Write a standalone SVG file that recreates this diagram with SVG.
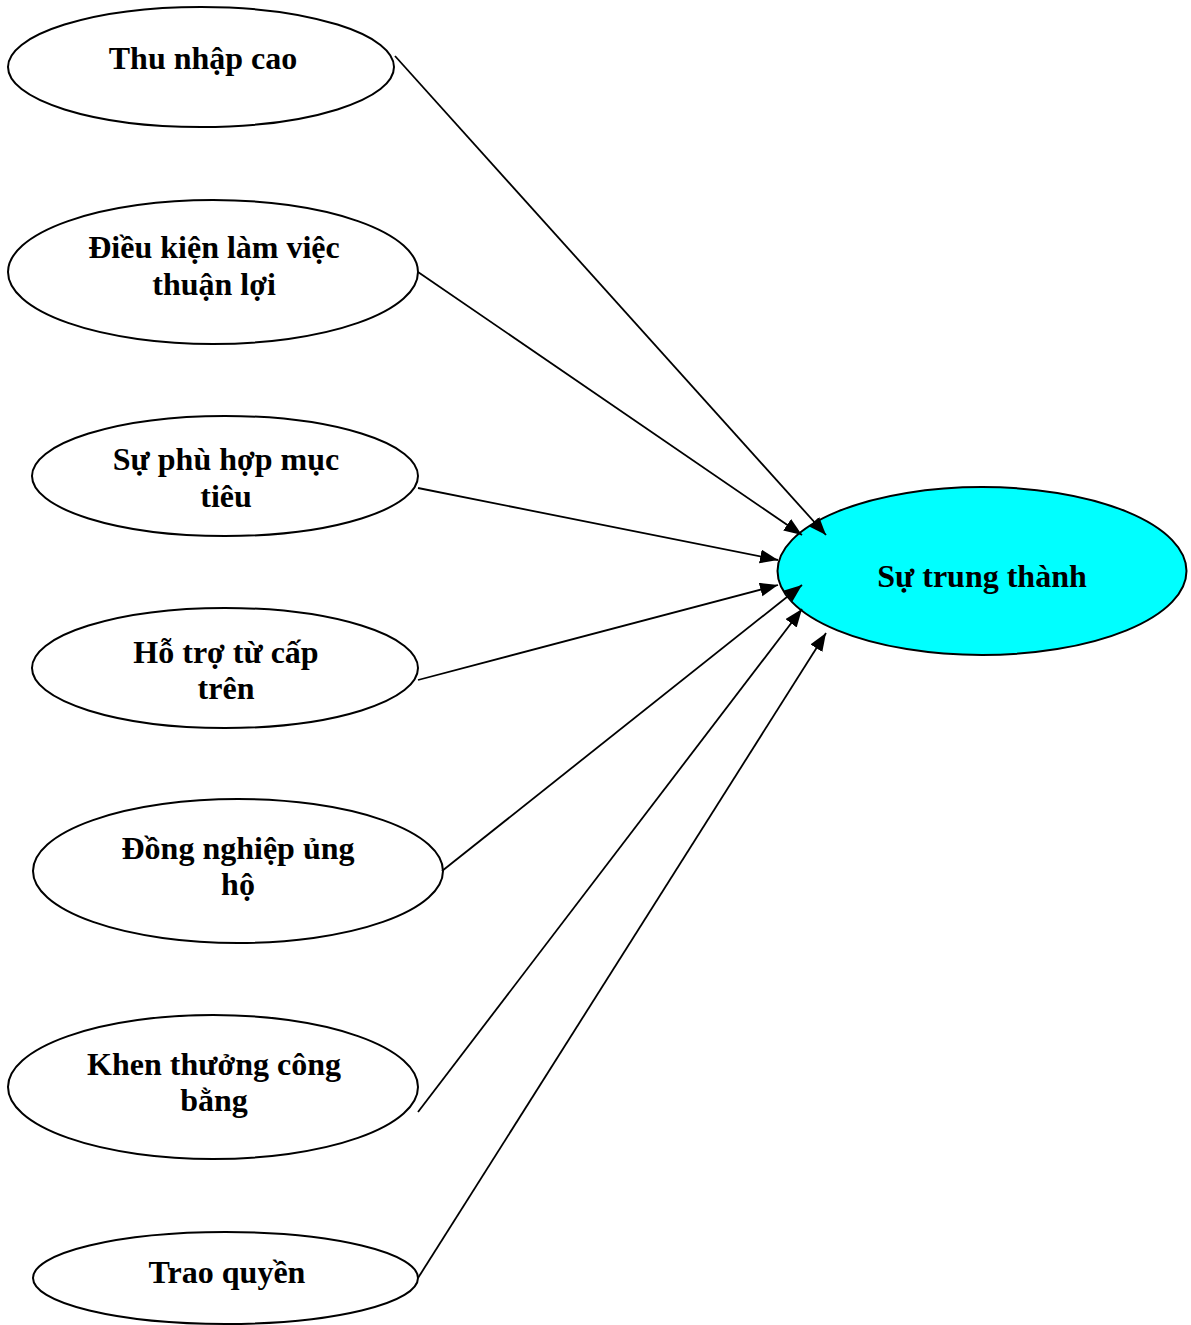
<svg xmlns="http://www.w3.org/2000/svg" width="1191" height="1325" viewBox="0 0 1191 1325">
<style>
.node ellipse{fill:#ffffff;stroke:#000000;stroke-width:2}
#n-target ellipse{fill:#00ffff}
text{font-family:"Liberation Serif","Times New Roman",serif;font-weight:bold;font-size:32px;fill:#000000;text-anchor:middle}
.conn line{stroke:#000000;stroke-width:1.8;fill:none;marker-end:url(#arr)}
</style>
<defs>
<marker id="arr" markerUnits="userSpaceOnUse" markerWidth="20" markerHeight="16" refX="18" refY="7" orient="auto">
<path d="M0,0 L18,7 L0,14 z" fill="#000000"/>
</marker>
</defs>
<rect width="1191" height="1325" fill="#ffffff"/>
<g id="n1" class="node"><ellipse cx="201" cy="67" rx="193" ry="60"/><text x="203" y="69">Thu nhập cao</text></g>
<g id="n2" class="node"><ellipse cx="213" cy="272" rx="205" ry="72"/><text x="214" y="258">Điều kiện làm việc</text><text x="214" y="295">thuận lợi</text></g>
<g id="n3" class="node"><ellipse cx="225" cy="476" rx="193" ry="60"/><text x="226" y="470">Sự phù hợp mục</text><text x="226" y="507">tiêu</text></g>
<g id="n4" class="node"><ellipse cx="225" cy="668" rx="193" ry="60"/><text x="226" y="663">Hỗ trợ từ cấp</text><text x="226" y="699">trên</text></g>
<g id="n5" class="node"><ellipse cx="238" cy="871" rx="205" ry="72"/><text x="238" y="859">Đồng nghiệp ủng</text><text x="238" y="895">hộ</text></g>
<g id="n6" class="node"><ellipse cx="213" cy="1087" rx="205" ry="72"/><text x="214" y="1075">Khen thưởng công</text><text x="214" y="1111">bằng</text></g>
<g id="n7" class="node"><ellipse cx="225.5" cy="1278" rx="192.5" ry="46"/><text x="227" y="1283">Trao quyền</text></g>
<g id="n-target" class="node"><ellipse cx="982" cy="571" rx="204.5" ry="84"/><text x="982" y="587">Sự trung thành</text></g>
<g id="connectors" class="conn">
<line x1="395" y1="56" x2="826" y2="535"/>
<line x1="418" y1="272" x2="802" y2="535"/>
<line x1="418" y1="488" x2="778" y2="560"/>
<line x1="418" y1="680" x2="778" y2="585"/>
<line x1="442" y1="871" x2="802" y2="585"/>
<line x1="418" y1="1112" x2="802" y2="609"/>
<line x1="418" y1="1278" x2="826" y2="633"/>
</g>
</svg>
